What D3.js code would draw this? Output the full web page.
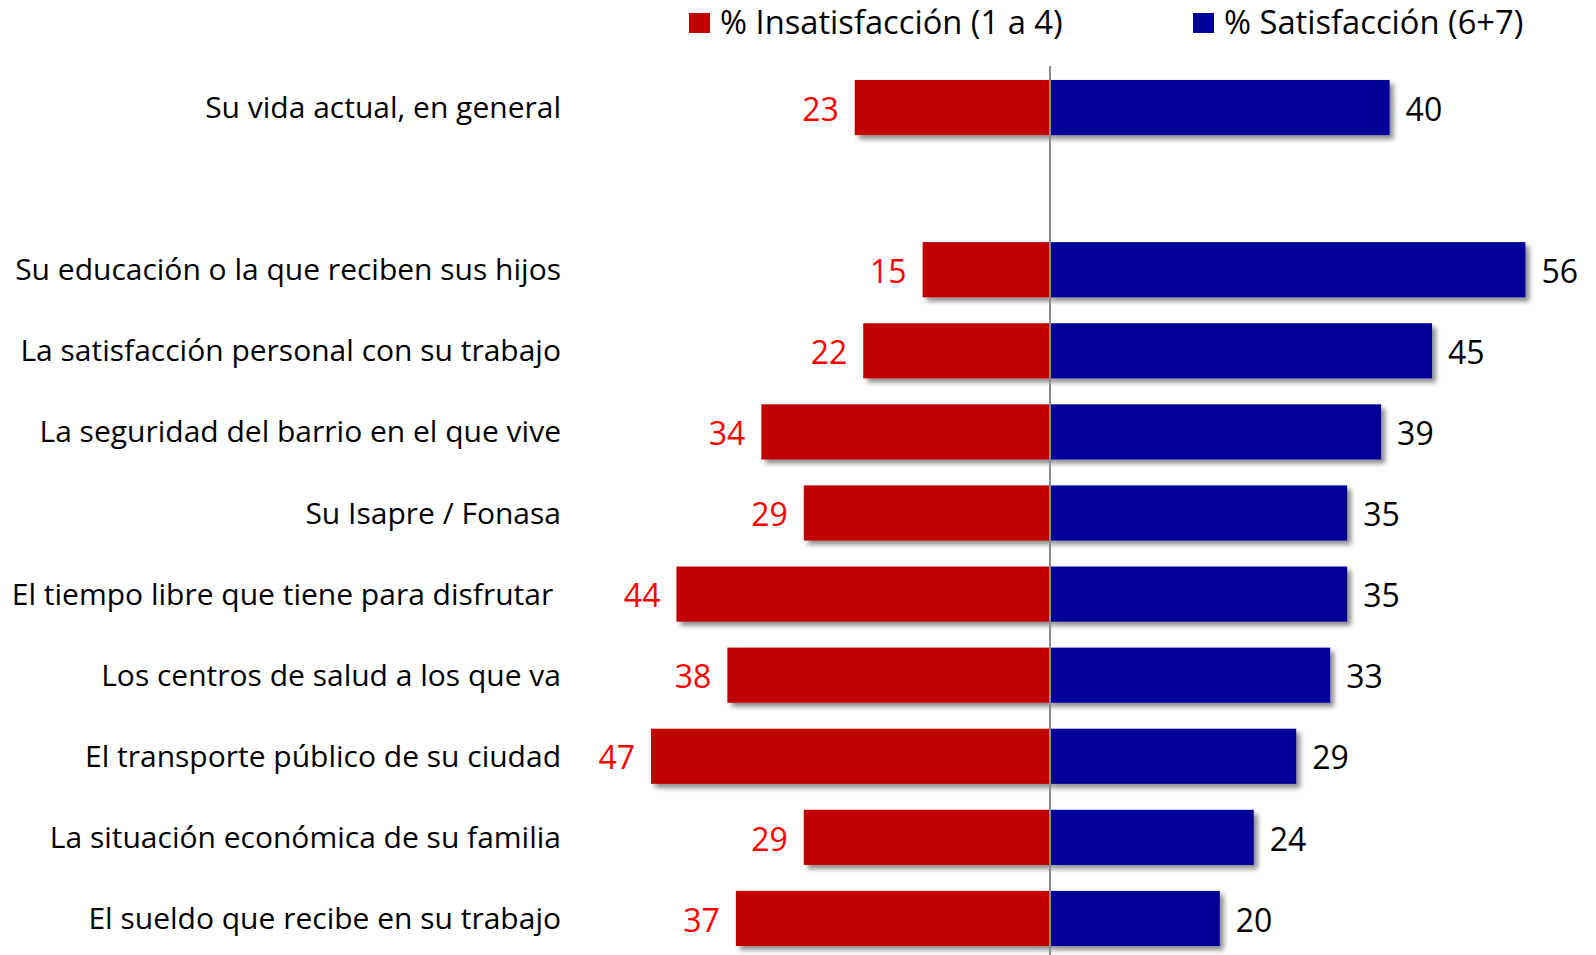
<!DOCTYPE html>
<html>
<head>
<meta charset="utf-8">
<script src="https://cdn.jsdelivr.net/npm/d3@7"></script>
<style>
  body { margin: 0; background: #fff; }
  text { font-family: "Open Sans", "Noto Sans", sans-serif; }
</style>
</head>
<body>
<div id="chart"></div>
<script>
// data ("" is the empty row after the first item)
const categories = [
  "Su vida actual, en general",
  "",
  "Su educación o la que reciben sus hijos",
  "La satisfacción personal con su trabajo",
  "La seguridad del barrio en el que vive",
  "Su Isapre / Fonasa",
  "El tiempo libre que tiene para disfrutar ",
  "Los centros de salud a los que va",
  "El transporte público de su ciudad",
  "La situación económica de su familia",
  "El sueldo que recibe en su trabajo"
];
const insatisfaccion = [23, null, 15, 22, 34, 29, 44, 38, 47, 29, 37];
const satisfaccion = [40, null, 56, 45, 39, 35, 35, 33, 29, 24, 20];
const seriesNames = ["% Insatisfacción (1 a 4)", "% Satisfacción (6+7)"];

const RED = "#C00000";
const BLUE = "#000099";
const RED_TEXT = "#FF0000";

const width = 1596, height = 955;
const center = 1050;
const pxPerUnit = 8.49;

const svg = d3.select("#chart").append("svg")
  .attr("width", width)
  .attr("height", height);

// drop shadow like the office chart
const defs = svg.append("defs");
const filter = defs.append("filter").attr("id", "shadow")
  .attr("x", "-10%").attr("y", "-20%").attr("width", "130%").attr("height", "160%");
filter.append("feDropShadow")
  .attr("dx", 4).attr("dy", 4).attr("stdDeviation", 2.5)
  .attr("flood-color", "#000").attr("flood-opacity", 0.45);

const x = d3.scaleLinear()
  .domain([-60, 60])
  .range([center - 60 * pxPerUnit, center + 60 * pxPerUnit]);

const y = d3.scaleBand()
  .domain(categories.map((c, i) => i))
  .range([54, 972])
  .padding(0.32);

const rows = categories.map((c, i) => ({
  label: c, idx: i, neg: insatisfaccion[i], pos: satisfaccion[i]
})).filter(d => d.neg !== null);

// bars
svg.append("g").selectAll("rect.neg")
  .data(rows).enter().append("rect")
  .attr("x", d => x(-d.neg))
  .attr("y", d => y(d.idx))
  .attr("width", d => x(0) - x(-d.neg))
  .attr("height", y.bandwidth())
  .attr("fill", RED)
  .attr("filter", "url(#shadow)");

svg.append("g").selectAll("rect.pos")
  .data(rows).enter().append("rect")
  .attr("x", x(0))
  .attr("y", d => y(d.idx))
  .attr("width", d => x(d.pos) - x(0))
  .attr("height", y.bandwidth())
  .attr("fill", BLUE)
  .attr("filter", "url(#shadow)");

// center line
svg.append("line")
  .attr("x1", x(0)).attr("x2", x(0))
  .attr("y1", 66).attr("y2", height)
  .attr("stroke", "#8c8c8c")
  .attr("stroke-width", 2);

// value labels
svg.append("g").selectAll("text")
  .data(rows).enter().append("text")
  .attr("x", d => x(-d.neg) - 16)
  .attr("y", d => y(d.idx) + y.bandwidth() / 2 + 2)
  .attr("dy", "0.35em")
  .attr("text-anchor", "end")
  .attr("fill", RED_TEXT)
  .style("font-size", "32px")
  .text(d => d.neg);

svg.append("g").selectAll("text")
  .data(rows).enter().append("text")
  .attr("x", d => x(d.pos) + 16)
  .attr("y", d => y(d.idx) + y.bandwidth() / 2 + 2)
  .attr("dy", "0.35em")
  .attr("text-anchor", "start")
  .attr("fill", "#000")
  .style("font-size", "32px")
  .text(d => d.pos);

// category labels
svg.append("g").selectAll("text")
  .data(rows).enter().append("text")
  .attr("x", 561)
  .attr("y", d => y(d.idx) + y.bandwidth() / 2)
  .attr("dy", "0.35em")
  .attr("text-anchor", "end")
  .attr("fill", "#000")
  .style("font-size", "30px")
  .style("white-space", "pre")
  .text(d => d.label);

// legend
const legendX = [689, 1193];
const legendColors = [RED, BLUE];
const legend = svg.append("g").attr("class", "legend");
seriesNames.forEach((name, i) => {
  legend.append("rect")
    .attr("x", legendX[i]).attr("y", 13)
    .attr("width", 21).attr("height", 20)
    .attr("fill", legendColors[i]);
  legend.append("text")
    .attr("x", legendX[i] + 31).attr("y", 23)
    .attr("dy", "0.35em")
    .style("font-size", "32.7px")
    .attr("fill", "#000")
    .text(name);
});
</script>
</body>
</html>
